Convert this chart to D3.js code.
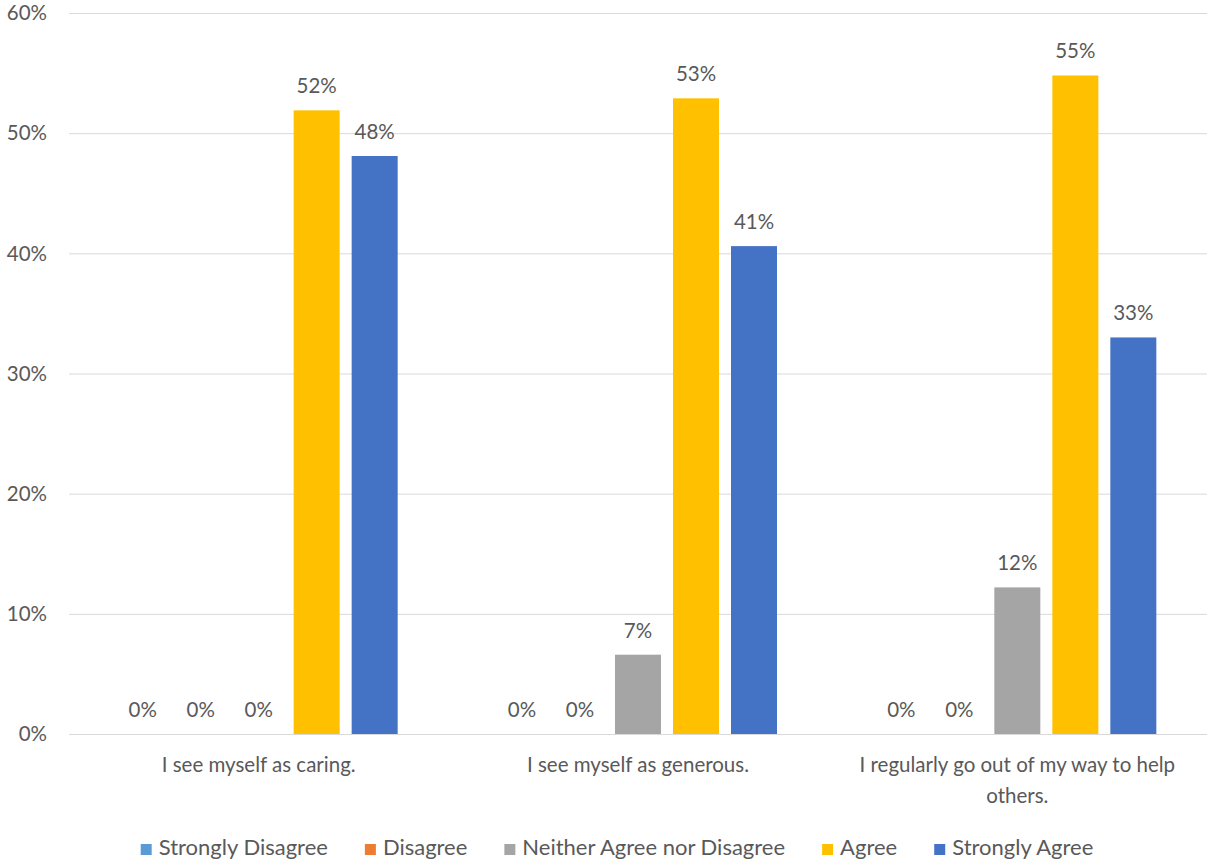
<!DOCTYPE html>
<html><head><meta charset="utf-8">
<script src="https://cdn.jsdelivr.net/npm/d3@7"></script>
<style>body{margin:0;background:#fff}svg{display:block}</style>
</head><body>
<svg id="c" width="1207" height="862"></svg>
<script>
const categories = [["I see myself as caring."], ["I see myself as generous."], ["I regularly go out of my way to help", "others."]];
const seriesNames = ["Strongly Disagree", "Disagree", "Neither Agree nor Disagree", "Agree", "Strongly Agree"];
const seriesColors = ["#5B9BD5", "#ED7D31", "#A5A5A5", "#FFC000", "#4472C4"];
const stronglyDisagree = [0, 0, 0];
const disagree = [0, 0, 0];
const neither = [0, 6.6, 12.2];
const agree = [51.9, 52.9, 54.8];
const stronglyAgree = [48.1, 40.6, 33.0];
const yTicks = [0, 10, 20, 30, 40, 50, 60];

const series = [stronglyDisagree, disagree, neither, agree, stronglyAgree];
const svg = d3.select("#c");
const font = "Lato, 'Open Sans', sans-serif";
const txt = "#595959";
const fs = 20.5;

const x0 = d3.scaleBand().domain(d3.range(categories.length)).range([69, 1207]);
const x1 = d3.scaleBand().domain(d3.range(seriesNames.length)).range([-139, 139]).paddingInner(12/58);
const y = d3.scaleLinear().domain([0, 60]).range([734, 13]);

// gridlines
svg.append("g").selectAll("line").data(yTicks).join("line")
  .attr("x1", 69).attr("x2", 1207)
  .attr("y1", d => y(d) + 0.5).attr("y2", d => y(d) + 0.5)
  .attr("stroke", "#d9d9d9").attr("stroke-width", 1);

// y labels
svg.append("g").selectAll("text").data(yTicks).join("text")
  .attr("x", 47).attr("y", d => y(d)).attr("dy", "0.35em")
  .attr("text-anchor", "end").attr("font-family", font).attr("font-size", fs)
  .attr("fill", txt).text(d => d + "%");

// bars
categories.forEach((cat, ci) => {
  const cx = x0(ci) + x0.bandwidth() / 2;
  const g = svg.append("g").attr("transform", `translate(${cx},0)`);
  const vals = series.map(s => s[ci]);
  g.selectAll("rect").data(vals).join("rect")
    .attr("x", (d, i) => x1(i)).attr("width", x1.bandwidth())
    .attr("y", d => y(d)).attr("height", d => y(0) - y(d))
    .attr("fill", (d, i) => seriesColors[i]);
  g.selectAll("text").data(vals).join("text")
    .attr("x", (d, i) => x1(i) + x1.bandwidth() / 2)
    .attr("y", d => y(d) - 17)
    .attr("text-anchor", "middle").attr("font-family", font).attr("font-size", fs)
    .attr("fill", txt).text(d => Math.round(d) + "%");
  const t = svg.append("text").attr("text-anchor", "middle").attr("font-family", font)
    .attr("font-size", fs).attr("fill", txt);
  cat.forEach((line, li) => {
    t.append("tspan").attr("x", cx).attr("y", 772 + li * 31).text(line);
  });
});

// legend
const lg = svg.append("g");
const items = lg.selectAll("g").data(seriesNames).join("g");
items.append("rect").attr("width", 11).attr("height", 11).attr("y", -11)
  .attr("fill", (d, i) => seriesColors[i]);
items.append("text").attr("x", 18).attr("y", 0).attr("font-family", font)
  .attr("font-size", 22).attr("fill", txt).text(d => d);
let xpos = 0;
const positions = [];
items.each(function () {
  positions.push(xpos);
  const w = this.querySelector("text").getComputedTextLength();
  xpos += 18 + w + 37;
});
const total = xpos - 37;
const start = 617 - total / 2;
items.attr("transform", (d, i) => `translate(${start + positions[i]},855)`);
</script>
</body></html>
